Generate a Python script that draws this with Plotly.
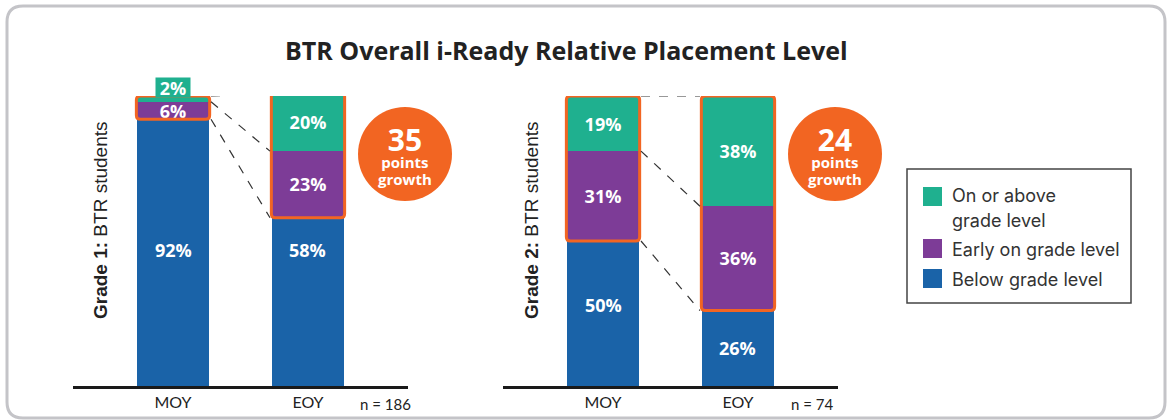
import plotly.graph_objects as go

W, H = 1167, 420

# ---------------- data ----------------
categories = ["MOY", "EOY"]
g1_below = [92, 58]
g1_early = [6, 23]
g1_on = [2, 20]
g2_below = [50, 26]
g2_early = [31, 36]
g2_on = [19, 38]
growth = [35, 24]
n_students = [186, 74]
series_names = ["On or above", "grade level", "Early on grade level", "Below grade level"]
# where the "below" labels sit (in % of the axis), as in the reference
g1_below_label_y = [47, 47]
g2_below_label_y = [28, 13]

GREEN = "#1fb08f"
PURPLE = "#7d3c97"
BLUE = "#1a63a8"
ORANGE = "#f26522"
TXT = "#222222"
BARW = 0.533
LABEL_FONT = dict(family="Open Sans", size=18, color="white", weight="bold")

def px(x):
    return x / W

def py(y):
    return 1 - y / H

fig = go.Figure()
xs = [0, 1]

def add_group(xa, ya, below, early, on, hide_first_on=False):
    for vals, col, show_text in [(below, BLUE, False), (early, PURPLE, True), (on, GREEN, True)]:
        texts = [f"{v}%" if show_text else "" for v in vals]
        if hide_first_on and vals is on:
            texts[0] = ""
        fig.add_trace(go.Bar(
            x=xs, y=vals, width=BARW, marker=dict(color=col, line=dict(width=0)),
            text=texts, textposition="inside", insidetextanchor="middle",
            constraintext="none", textangle=0, textfont=LABEL_FONT,
            xaxis=xa, yaxis=ya, showlegend=False, hoverinfo="skip"))

add_group("x", "y", g1_below, g1_early, g1_on, hide_first_on=True)
add_group("x2", "y2", g2_below, g2_early, g2_on)

axis_common = dict(range=[-0.741, 1.741], tickvals=xs, ticktext=categories,
                   showgrid=False, zeroline=False, showline=True,
                   linecolor="#1a1a1a", linewidth=2.5, ticks="",
                   tickfont=dict(family="Lato", size=16, color=TXT), fixedrange=True)
yaxis_common = dict(range=[0, 100], visible=False, fixedrange=True,
                    domain=[34 / H, 324 / H])

fig.update_layout(
    width=W, height=H, margin=dict(l=0, r=0, t=0, b=0),
    paper_bgcolor="white", plot_bgcolor="rgba(0,0,0,0)",
    barmode="stack", showlegend=False,
    xaxis=dict(domain=[px(73), px(408)], anchor="y", **axis_common),
    yaxis=dict(anchor="x", **yaxis_common),
    xaxis2=dict(domain=[px(503), px(838)], anchor="y2", **axis_common),
    yaxis2=dict(anchor="x2", **yaxis_common),
)

shapes = []

def rrect_paper(x0, y0, x1, y1, r):
    X = lambda v: px(v)
    Y = lambda v: py(v)
    return (f"M {X(x0+r)},{Y(y0)} L {X(x1-r)},{Y(y0)} Q {X(x1)},{Y(y0)} {X(x1)},{Y(y0+r)} "
            f"L {X(x1)},{Y(y1-r)} Q {X(x1)},{Y(y1)} {X(x1-r)},{Y(y1)} "
            f"L {X(x0+r)},{Y(y1)} Q {X(x0)},{Y(y1)} {X(x0)},{Y(y1-r)} "
            f"L {X(x0)},{Y(y0+r)} Q {X(x0)},{Y(y0)} {X(x0+r)},{Y(y0)} Z")

shapes.append(dict(type="path", xref="paper", yref="paper",
                   path=rrect_paper(7, 6, 1165, 418, 16),
                   line=dict(color="#c4c4c8", width=3), layer="below"))

RX = 4 * 2.482 / 335
RY = 4 * 100 / 290

def rrect_data(x0, y0, x1, y1):
    return (f"M {x0+RX},{y1} L {x1-RX},{y1} Q {x1},{y1} {x1},{y1-RY} "
            f"L {x1},{y0+RY} Q {x1},{y0} {x1-RX},{y0} "
            f"L {x0+RX},{y0} Q {x0},{y0} {x0},{y0+RY} "
            f"L {x0},{y1-RY} Q {x0},{y1} {x0+RX},{y1} Z")

annotations = []
half = BARW / 2 + 0.005
for xr, yr, below, early, on, lab_y in [("x", "y", g1_below, g1_early, g1_on, g1_below_label_y),
                                        ("x2", "y2", g2_below, g2_early, g2_on, g2_below_label_y)]:
    for i in range(2):
        y0 = below[i]
        y1 = below[i] + early[i] + on[i]
        shapes.append(dict(type="path", xref=xr, yref=yr,
                           path=rrect_data(xs[i] - half, y0, xs[i] + half, y1),
                           line=dict(color=ORANGE, width=3)))
        annotations.append(dict(text=f"{below[i]}%", xref=xr, yref=yr, x=xs[i], y=lab_y[i],
                                xanchor="center", yanchor="middle", showarrow=False,
                                font=LABEL_FONT))
    levels0 = [below[0] + early[0] + on[0], below[0] + early[0], below[0]]
    levels1 = [below[1] + early[1] + on[1], below[1] + early[1], below[1]]
    for a, b in zip(levels0, levels1):
        shapes.append(dict(type="line", xref=xr, yref=yr,
                           x0=xs[0] + half + 0.01, y0=a, x1=xs[1] - half - 0.01, y1=b,
                           line=dict(color="#333333", width=1.2, dash="dash")))

circle_centers = [(405, 154), (835, 154)]
R = 47
for (cx, cy) in circle_centers:
    shapes.append(dict(type="circle", xref="paper", yref="paper",
                       x0=px(cx - R), x1=px(cx + R), y0=py(cy + R), y1=py(cy - R),
                       fillcolor=ORANGE, line=dict(width=0)))

shapes.append(dict(type="rect", xref="paper", yref="paper",
                   x0=px(907), x1=px(1131), y0=py(303), y1=py(169),
                   line=dict(color="#444444", width=1.5), fillcolor="white"))
legend_rows = [(GREEN, 187), (PURPLE, 239), (BLUE, 269)]
for col, top in legend_rows:
    shapes.append(dict(type="rect", xref="paper", yref="paper",
                       x0=px(923), x1=px(942), y0=py(top + 19), y1=py(top),
                       fillcolor=col, line=dict(width=0)))

def ann(text, x, y, font, xanchor="center", yanchor="middle", **kw):
    d = dict(text=text, xref="paper", yref="paper", x=px(x), y=py(y),
             xanchor=xanchor, yanchor=yanchor, showarrow=False, font=font)
    d.update(kw)
    annotations.append(d)

ann("<b>BTR Overall i-Ready Relative Placement Level</b>", 566, 50,
    dict(family="Open Sans", size=25, color=TXT))
for xpix, g in [(100, 1), (531, 2)]:
    ann(f"<b>Grade {g}:</b> BTR students", xpix, 221,
        dict(family="Liberation Sans", size=19, color=TXT), textangle=-90)
for xpix, nv in [(385, n_students[0]), (812, n_students[1])]:
    ann(f"n = {nv}", xpix, 404, dict(family="Lato", size=15, color=TXT))

annotations.append(dict(text=f"{g1_on[0]}%", xref="x", yref="y", x=0,
                        y=g1_below[0] + g1_early[0] + g1_on[0], yshift=8,
                        xanchor="center", yanchor="middle", width=34, height=19,
                        showarrow=False, bgcolor=GREEN, borderpad=0,
                        font=LABEL_FONT))

for (cx, cy), gval in zip(circle_centers, growth):
    ann(f"<b><span style='font-size:30px'>{gval}</span></b><br>"
        f"<b><span style='font-size:15px'>points</span></b><br>"
        f"<b><span style='font-size:15px'>growth</span></b>",
        cx, cy - 0.5, dict(family="Open Sans", size=13, color="white"))

LEG_FONT = dict(family="Inter", size=18, color="#333333")
ann(series_names[0], 950, 195, LEG_FONT, xanchor="left")
ann(series_names[1], 950, 220, LEG_FONT, xanchor="left")
ann(series_names[2], 950, 249, LEG_FONT, xanchor="left")
ann(series_names[3], 950, 279, LEG_FONT, xanchor="left")

fig.update_layout(shapes=shapes, annotations=annotations)
fig.write_html("out.html")
